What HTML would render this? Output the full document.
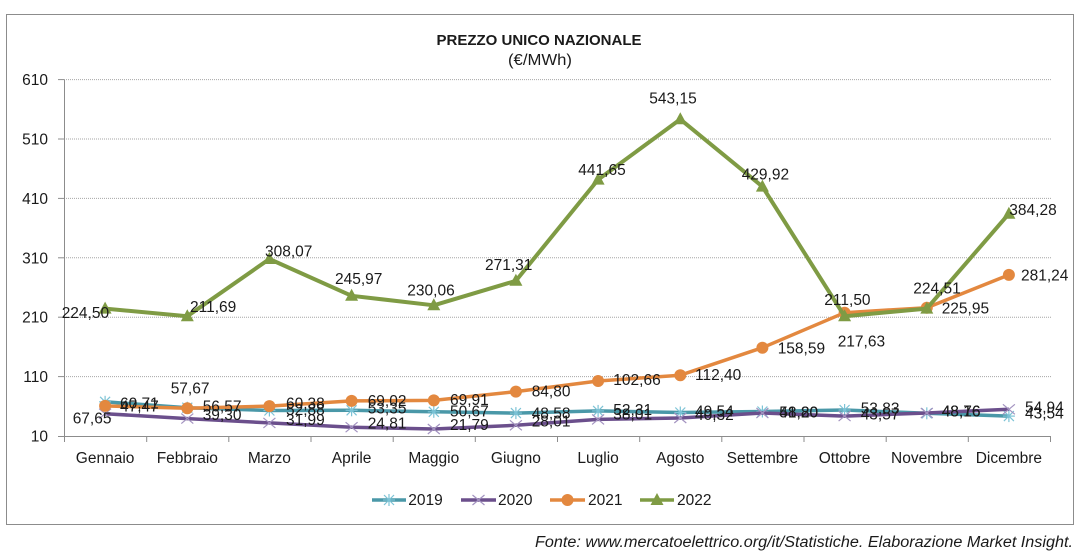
<!DOCTYPE html>
<html><head><meta charset="utf-8"><style>
html,body{margin:0;padding:0;background:#fff;}
svg{display:block;}
text{font-family:"Liberation Sans",sans-serif;fill:#1a1a1a;}
.l{font-size:15.5px;}
</style></head><body>
<svg width="1083" height="555" viewBox="0 0 1083 555" xmlns="http://www.w3.org/2000/svg">
<rect x="0" y="0" width="1083" height="555" fill="#fff"/>
<rect x="6.5" y="14.5" width="1067" height="510" fill="none" stroke="#8c8c8c" stroke-width="1"/>
<text x="539" y="45" text-anchor="middle" font-weight="bold" font-size="15" textLength="205" lengthAdjust="spacingAndGlyphs">PREZZO UNICO NAZIONALE</text>
<text x="540" y="65" text-anchor="middle" font-size="15.5" textLength="64" lengthAdjust="spacingAndGlyphs">(€/MWh)</text>
<!-- gridlines -->
<g stroke="#a6a6a6" stroke-width="1" stroke-dasharray="1 1">
<line x1="64" y1="79.6" x2="1051" y2="79.6"/>
<line x1="64" y1="139" x2="1051" y2="139"/>
<line x1="64" y1="198.4" x2="1051" y2="198.4"/>
<line x1="64" y1="257.8" x2="1051" y2="257.8"/>
<line x1="64" y1="317.2" x2="1051" y2="317.2"/>
<line x1="64" y1="376.6" x2="1051" y2="376.6"/>
</g>
<g stroke="#8c8c8c" stroke-width="1">
<line x1="64.5" y1="79.6" x2="64.5" y2="436"/>
<line x1="64" y1="436.5" x2="1051" y2="436.5"/>
<line x1="58" y1="79.6" x2="64" y2="79.6"/>
<line x1="58" y1="139" x2="64" y2="139"/>
<line x1="58" y1="198.4" x2="64" y2="198.4"/>
<line x1="58" y1="257.8" x2="64" y2="257.8"/>
<line x1="58" y1="317.2" x2="64" y2="317.2"/>
<line x1="58" y1="376.6" x2="64" y2="376.6"/>
<line x1="58" y1="436.5" x2="64" y2="436.5"/>
<line x1="64.5" y1="436" x2="64.5" y2="442"/>
<line x1="146.7" y1="436" x2="146.7" y2="442"/>
<line x1="228.8" y1="436" x2="228.8" y2="442"/>
<line x1="311" y1="436" x2="311" y2="442"/>
<line x1="393.2" y1="436" x2="393.2" y2="442"/>
<line x1="475.3" y1="436" x2="475.3" y2="442"/>
<line x1="557.5" y1="436" x2="557.5" y2="442"/>
<line x1="639.7" y1="436" x2="639.7" y2="442"/>
<line x1="721.8" y1="436" x2="721.8" y2="442"/>
<line x1="804" y1="436" x2="804" y2="442"/>
<line x1="886.2" y1="436" x2="886.2" y2="442"/>
<line x1="968.3" y1="436" x2="968.3" y2="442"/>
<line x1="1050.5" y1="436" x2="1050.5" y2="442"/>
</g>
<!-- y labels -->
<g class="l" text-anchor="end">
<text x="48" y="85">610</text>
<text x="48" y="144.5">510</text>
<text x="48" y="204">410</text>
<text x="48" y="263.3">310</text>
<text x="48" y="322.7">210</text>
<text x="48" y="382">110</text>
<text x="48" y="441.5">10</text>
</g>
<!-- x labels -->
<g class="l" text-anchor="middle">
<text x="105.1" y="463">Gennaio</text>
<text x="187.3" y="463">Febbraio</text>
<text x="269.4" y="463">Marzo</text>
<text x="351.6" y="463">Aprile</text>
<text x="433.8" y="463">Maggio</text>
<text x="515.9" y="463">Giugno</text>
<text x="598.1" y="463">Luglio</text>
<text x="680.3" y="463">Agosto</text>
<text x="762.4" y="463">Settembre</text>
<text x="844.6" y="463">Ottobre</text>
<text x="926.8" y="463">Novembre</text>
<text x="1008.9" y="463">Dicembre</text>
</g>
<defs>
<g id="ast"><g stroke="#7cc3d6" stroke-width="1.2"><line x1="-6" y1="0" x2="6" y2="0"/><line x1="0" y1="-6" x2="0" y2="6"/><line x1="-5" y1="-5" x2="5" y2="5"/><line x1="-5" y1="5" x2="5" y2="-5"/></g></g>
<g id="xm"><g stroke="#a393c0" stroke-width="1.2"><line x1="-6" y1="-5" x2="6" y2="5"/><line x1="-6" y1="5" x2="6" y2="-5"/></g></g>
<circle id="cir" cx="0" cy="0" r="6" fill="#e3883f"/>
<polygon id="tri" points="0,-7 6.5,5 -6.5,5" fill="#7f9b44"/>
</defs>
<!-- 2019 -->
<polyline fill="none" stroke="#4a98a8" stroke-width="3.5" stroke-linejoin="round" points="105.1,401.8 187.3,407.7 269.4,410.5 351.6,410.3 433.8,411.8 515.9,413.1 598.1,410.9 680.3,412.5 762.4,411.5 844.6,410 926.8,413.3 1008.9,416.1"/>
<g>
<use href="#ast" x="105.1" y="401.8"/><use href="#ast" x="187.3" y="407.7"/><use href="#ast" x="269.4" y="410.5"/><use href="#ast" x="351.6" y="410.3"/><use href="#ast" x="433.8" y="411.8"/><use href="#ast" x="515.9" y="413.1"/><use href="#ast" x="598.1" y="410.9"/><use href="#ast" x="680.3" y="412.5"/><use href="#ast" x="762.4" y="411.5"/><use href="#ast" x="844.6" y="410"/><use href="#ast" x="926.8" y="413.3"/><use href="#ast" x="1008.9" y="416.1"/>
</g>
<!-- 2020 -->
<polyline fill="none" stroke="#6b4f8c" stroke-width="3.5" stroke-linejoin="round" points="105.1,413.7 187.3,418.6 269.4,422.9 351.6,427.2 433.8,429 515.9,425.3 598.1,419.4 680.3,418 762.4,413 844.6,416.1 926.8,413 1008.9,409.3"/>
<g>
<use href="#xm" x="105.1" y="413.7"/><use href="#xm" x="187.3" y="418.6"/><use href="#xm" x="269.4" y="422.9"/><use href="#xm" x="351.6" y="427.2"/><use href="#xm" x="433.8" y="429"/><use href="#xm" x="515.9" y="425.3"/><use href="#xm" x="598.1" y="419.4"/><use href="#xm" x="680.3" y="418"/><use href="#xm" x="762.4" y="413"/><use href="#xm" x="844.6" y="416.1"/><use href="#xm" x="926.8" y="413"/><use href="#xm" x="1008.9" y="409.3"/>
</g>
<!-- 2021 -->
<polyline fill="none" stroke="#e3883f" stroke-width="3.5" stroke-linejoin="round" points="105.1,405.9 187.3,408.3 269.4,406.1 351.6,400.9 433.8,400.4 515.9,391.6 598.1,381 680.3,375.2 762.4,347.7 844.6,312.7 926.8,307.7 1008.9,274.9"/>
<g>
<use href="#cir" x="105.1" y="405.9"/><use href="#cir" x="187.3" y="408.3"/><use href="#cir" x="269.4" y="406.1"/><use href="#cir" x="351.6" y="400.9"/><use href="#cir" x="433.8" y="400.4"/><use href="#cir" x="515.9" y="391.6"/><use href="#cir" x="598.1" y="381"/><use href="#cir" x="680.3" y="375.2"/><use href="#cir" x="762.4" y="347.7"/><use href="#cir" x="844.6" y="312.7"/><use href="#cir" x="926.8" y="307.7"/><use href="#cir" x="1008.9" y="274.9"/>
</g>
<!-- 2022 -->
<polyline fill="none" stroke="#7f9b44" stroke-width="4" stroke-linejoin="round" points="105.1,308.6 187.3,316.2 269.4,259 351.6,295.8 433.8,305.3 515.9,280.8 598.1,179.6 680.3,119.3 762.4,186.6 844.6,316.3 926.8,308.6 1008.9,213.7"/>
<g>
<use href="#tri" x="105.1" y="308.6"/><use href="#tri" x="187.3" y="316.2"/><use href="#tri" x="269.4" y="259"/><use href="#tri" x="351.6" y="295.8"/><use href="#tri" x="433.8" y="305.3"/><use href="#tri" x="515.9" y="280.8"/><use href="#tri" x="598.1" y="179.6"/><use href="#tri" x="680.3" y="119.3"/><use href="#tri" x="762.4" y="186.6"/><use href="#tri" x="844.6" y="316.3"/><use href="#tri" x="926.8" y="308.6"/><use href="#tri" x="1008.9" y="213.7"/>
</g>
<!-- data labels -->
<g class="l">
<!-- 2019 -->
<text x="72.7" y="423.3">67,65</text>
<text x="170.7" y="393.3">57,67</text>
<text x="286" y="415">52,88</text>
<text x="367.7" y="413.3">53,35</text>
<text x="450" y="416.7">50,67</text>
<text x="531.7" y="418.3">48,58</text>
<text x="613.3" y="415">52,31</text>
<text x="695" y="416.7">49,54</text>
<text x="779.3" y="417.3">51,20</text>
<text x="860.7" y="413.3">53,83</text>
<text x="941.7" y="416.7">48,16</text>
<text x="1025" y="418.3">43,54</text>
<!-- 2020 -->
<text x="120" y="411.7">47,47</text>
<text x="202.7" y="420">39,30</text>
<text x="286" y="425">31,99</text>
<text x="367.7" y="428.3">24,81</text>
<text x="450" y="430">21,79</text>
<text x="531.7" y="426.7">28,01</text>
<text x="613.3" y="419.3">38,01</text>
<text x="695" y="420">40,32</text>
<text x="779.3" y="417.3">48,80</text>
<text x="860.7" y="419.3">43,57</text>
<text x="941.7" y="416.7">48,76</text>
<text x="1025" y="412.7">54,94</text>
<!-- 2021 -->
<text x="120" y="408.3">60,71</text>
<text x="202.7" y="411.7">56,57</text>
<text x="286" y="408.3">60,38</text>
<text x="367.7" y="406">69,02</text>
<text x="450" y="405">69,91</text>
<text x="531.7" y="396.7">84,80</text>
<text x="613.3" y="385">102,66</text>
<text x="695" y="380">112,40</text>
<text x="777.7" y="353.3">158,59</text>
<text x="837.7" y="346.7">217,63</text>
<text x="941.7" y="313.3">225,95</text>
<text x="1021" y="280.7">281,24</text>
<!-- 2022 -->
<text x="61.7" y="318">224,50</text>
<text x="190" y="312">211,69</text>
<text x="265" y="256.7">308,07</text>
<text x="335" y="284">245,97</text>
<text x="407.3" y="295.7">230,06</text>
<text x="485" y="270">271,31</text>
<text x="578.3" y="175">441,65</text>
<text x="649.3" y="103.3">543,15</text>
<text x="741.7" y="179.3">429,92</text>
<text x="824.3" y="305">211,50</text>
<text x="913.3" y="293.3">224,51</text>
<text x="1009.3" y="215">384,28</text>
</g>
<!-- legend -->
<g>
<line x1="372" y1="500" x2="406" y2="500" stroke="#4a98a8" stroke-width="3.5"/>
<use href="#ast" x="389" y="500"/>
<text class="l" x="408.3" y="505">2019</text>
<line x1="461" y1="500" x2="496" y2="500" stroke="#6b4f8c" stroke-width="3.5"/>
<use href="#xm" x="478.5" y="500"/>
<text class="l" x="498" y="505">2020</text>
<line x1="550" y1="500" x2="585" y2="500" stroke="#e3883f" stroke-width="3.5"/>
<use href="#cir" x="567.5" y="500"/>
<text class="l" x="588" y="505">2021</text>
<line x1="640" y1="500" x2="674" y2="500" stroke="#7f9b44" stroke-width="3.5"/>
<use href="#tri" x="657" y="500"/>
<text class="l" x="677" y="505">2022</text>
</g>
<text x="1073" y="547" text-anchor="end" font-style="italic" font-size="15.5" textLength="538" lengthAdjust="spacingAndGlyphs">Fonte: www.mercatoelettrico.org/it/Statistiche. Elaborazione Market Insight.</text>
</svg>
</body></html>
